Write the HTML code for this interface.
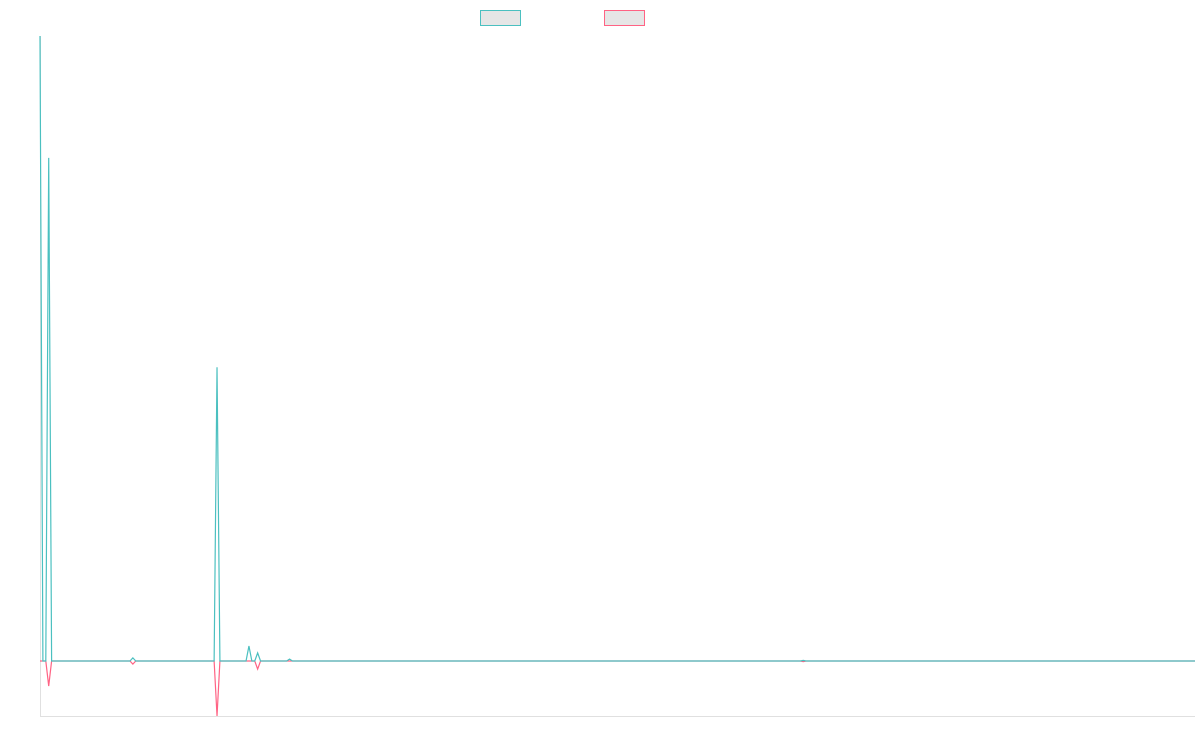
<!DOCTYPE html>
<html><head><meta charset="utf-8"><style>
body{margin:0;background:#fff;font-family:"Liberation Sans",sans-serif}
</style></head><body>
<svg id="chart" width="1200" height="750">
  <rect x="480.5" y="10.5" width="40" height="15" fill="rgba(230,230,230,1)" stroke="#4bc0c0"/>
  <rect x="604.5" y="10.5" width="40" height="15" fill="rgba(230,230,230,1)" stroke="#ff6384"/>
  <line x1="40.5" y1="36" x2="40.5" y2="716.5" stroke="#e0e0e0"/>
  <line x1="40" y1="716.5" x2="1195" y2="716.5" stroke="#e0e0e0"/>
</svg>
<script>
const pointCount = 399;
const seriesAIdx = [0, 3, 32, 61, 72, 75, 86, 263];
const seriesAVal = [100, 80.5, 0.5, 47, 2.4, 1.3, 0.3, 0.1];
const seriesBIdx = [3, 32, 61, 75, 263];
const seriesBVal = [-4, -0.5, -8.8, -1.3, -0.1];
const yMin = -8.8, yMax = 100;
const x = i => 40 + i * (1155 / (pointCount - 1));
const y = v => 716 - (v - yMin) / (yMax - yMin) * 680;
function build(idx, val){
  const arr = new Array(pointCount).fill(0);
  idx.forEach((k, j) => arr[k] = val[j]);
  return arr;
}
const svg = document.getElementById('chart');
function draw(data, color, name){
  const p = document.createElementNS('http://www.w3.org/2000/svg','polyline');
  p.setAttribute('points', data.map((v,i)=>x(i).toFixed(2)+','+y(v).toFixed(2)).join(' '));
  p.setAttribute('fill','none');
  p.setAttribute('stroke',color);
  p.setAttribute('stroke-width','1.2');
  
  
  svg.appendChild(p);
}
draw(build(seriesBIdx, seriesBVal), '#ff6384', 'series-2-line');
draw(build(seriesAIdx, seriesAVal), '#4bc0c0', 'series-1-line');
</script>
</body></html>
